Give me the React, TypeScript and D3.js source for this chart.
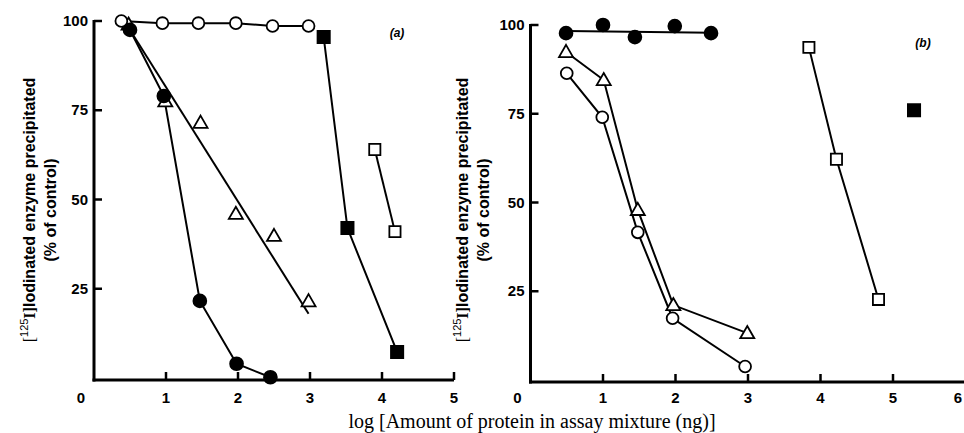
import React, { useEffect, useRef } from 'react'
import * as d3 from 'd3'

// panel (a)
const openCircleAx = [0.38, 0.95, 1.45, 1.97, 2.48, 2.98]
const openCircleAy = [100, 99.4, 99.4, 99.4, 98.6, 98.6]
const filledCircleAx = [0.5, 0.97, 1.47, 1.98, 2.45]
const filledCircleAy = [97.5, 79, 21.6, 4, 0.2]
const triangleAx = [0.48, 0.99, 1.48, 1.97, 2.5, 2.98]
const triangleAy = [99, 77.5, 71.5, 46, 39.8, 21.5]
const triangleFitAx = [0.5, 2.98]
const triangleFitAy = [97.5, 18]
const filledSquareAx = [3.19, 3.52, 4.21]
const filledSquareAy = [95.5, 42, 7.3]
const openSquareAx = [3.9, 4.18]
const openSquareAy = [64, 41]

// panel (b)
const filledCircleBx = [0.49, 1.0, 1.44, 1.99, 2.49]
const filledCircleBy = [97.7, 100, 96.6, 99.7, 97.7]
const filledCircleFitBx = [0.5, 2.5]
const filledCircleFitBy = [98.3, 97.8]
const triangleBx = [0.49, 1.01, 1.48, 1.97, 2.99]
const triangleBy = [92.4, 84.5, 47.9, 21.1, 13.2]
const openCircleBx = [0.5, 0.99, 1.48, 1.96, 2.96]
const openCircleBy = [86.4, 74, 41.6, 17.4, 3.8]
const openSquareBx = [3.84, 4.22, 4.8]
const openSquareBy = [93.7, 62.2, 22.7]
const filledSquareBx = [5.29]
const filledSquareBy = [76]

const yTicks = [25, 50, 75, 100]
const xTitle = 'log [Amount of protein in assay mixture (ng)]'

const zip = (xs: number[], ys: number[]) => xs.map((x, i) => [x, ys[i]] as [number, number])

export default function App() {
  const ref = useRef<SVGSVGElement>(null)

  useEffect(() => {
    const svg = d3.select(ref.current)
    svg.selectAll('*').remove()

    const drawPanel = (opts: any) => {
      const { x, y, xMax, label, labelPos, titleX, series, lines } = opts
      const g = svg.append('g')
      const x0 = x(0), y0 = y(0) + 2

      // axes
      g.append('line').attr('x1', x0).attr('x2', x0).attr('y1', y(100) - 1).attr('y2', y0 + 1.5)
        .attr('stroke', '#000').attr('stroke-width', 3)
      g.append('line').attr('x1', x0 - 1.5).attr('x2', x(xMax)).attr('y1', y0).attr('y2', y0)
        .attr('stroke', '#000').attr('stroke-width', 3)

      yTicks.forEach(t => {
        g.append('line').attr('x1', x0).attr('x2', x0 + 8).attr('y1', y(t)).attr('y2', y(t))
          .attr('stroke', '#000').attr('stroke-width', 2.5)
        g.append('text').attr('x', x0 - 6).attr('y', y(t) + 5).attr('text-anchor', 'end')
          .style('font-family', 'Liberation Sans, Arial, sans-serif').style('font-weight', 'bold')
          .style('font-size', '15px').text(t)
      })
      d3.range(0, xMax + 1).forEach(t => {
        if (t > 0) {
          g.append('line').attr('x1', x(t)).attr('x2', x(t)).attr('y1', y0).attr('y2', y0 - 8)
            .attr('stroke', '#000').attr('stroke-width', 2.5)
        }
        // the origin label sits left of the corner, the last one is clipped by the page edge
        const lx = t === 0 ? x(t) - 13 : Math.min(x(t), 958)
        g.append('text').attr('x', lx).attr('y', 403).attr('text-anchor', 'middle')
          .style('font-family', 'Liberation Sans, Arial, sans-serif').style('font-weight', 'bold')
          .style('font-size', '15px').text(t)
      })

      // y title
      const yt = g.append('text').attr('transform', `translate(${titleX},210) rotate(-90)`)
        .attr('text-anchor', 'middle')
        .style('font-family', 'Liberation Sans, Arial, sans-serif').style('font-size', '16px')
        .style('font-weight', 'bold')
      yt.append('tspan').style('font-family', 'Liberation Serif, serif').style('font-weight', 'normal').text('[')
      yt.append('tspan').attr('dy', -7).style('font-size', '11px').style('font-weight', 'normal').text('125')
      yt.append('tspan').attr('dy', 7).style('font-family', 'Liberation Serif, serif').text('I]')
      yt.append('tspan').text('Iodinated enzyme precipitated')
      g.append('text').attr('transform', `translate(${titleX + 21},210) rotate(-90)`)
        .attr('text-anchor', 'middle')
        .style('font-family', 'Liberation Sans, Arial, sans-serif').style('font-size', '16px')
        .style('font-weight', 'bold')
        .text('(% of control)')

      g.append('text').attr('x', labelPos[0]).attr('y', labelPos[1]).attr('text-anchor', 'middle')
        .style('font-family', 'Liberation Sans, Arial, sans-serif').style('font-style', 'italic')
        .style('font-size', '12px').style('font-weight', 'bold').text(label)

      const line = d3.line<[number, number]>().x(d => x(d[0])).y(d => y(d[1]))
      lines.forEach((pts: [number, number][]) => {
        g.append('path').attr('d', line(pts)).attr('fill', 'none').attr('stroke', '#000').attr('stroke-width', 2)
      })

      series.forEach((s: any) => {
        const sym = s.shape === 'circle' ? d3.symbolCircle : s.shape === 'square' ? d3.symbolSquare : d3.symbolTriangle
        const size = s.shape === 'circle' ? (s.filled ? 130 : 110) : s.shape === 'square' ? (s.filled ? 150 : 125) : 85
        g.selectAll(null).data(s.pts).enter().append('path')
          .attr('d', d3.symbol().type(sym).size(size)())
          .attr('transform', (d: any) => `translate(${x(d[0])},${y(d[1]) + (s.shape === 'triangle' ? 1 : 0)})`)
          .attr('fill', s.filled ? '#000' : '#fff').attr('stroke', '#000').attr('stroke-width', 1.8)
      })
    }

    const xA = d3.scaleLinear().domain([0, 5]).range([94, 454])
    const yA = d3.scaleLinear().domain([0, 100]).range([378, 21])
    drawPanel({
      x: xA, y: yA, xMax: 5, label: '(a)', labelPos: [397, 37], titleX: 35,
      lines: [
        zip(openCircleAx, openCircleAy),
        zip(filledCircleAx, filledCircleAy),
        zip(triangleFitAx, triangleFitAy),
        zip(filledSquareAx, filledSquareAy),
        zip(openSquareAx, openSquareAy),
      ],
      series: [
        { shape: 'triangle', filled: false, pts: zip(triangleAx, triangleAy) },
        { shape: 'circle', filled: false, pts: zip(openCircleAx, openCircleAy) },
        { shape: 'circle', filled: true, pts: zip(filledCircleAx, filledCircleAy) },
        { shape: 'square', filled: true, pts: zip(filledSquareAx, filledSquareAy) },
        { shape: 'square', filled: false, pts: zip(openSquareAx, openSquareAy) },
      ],
    })

    const xB = d3.scaleLinear().domain([0, 6]).range([530.5, 965.5])
    const yB = d3.scaleLinear().domain([0, 100]).range([380, 25])
    drawPanel({
      x: xB, y: yB, xMax: 6, label: '(b)', labelPos: [923, 47], titleX: 468,
      lines: [
        zip(filledCircleFitBx, filledCircleFitBy),
        zip(triangleBx, triangleBy),
        zip(openCircleBx, openCircleBy),
        zip(openSquareBx, openSquareBy),
      ],
      series: [
        { shape: 'circle', filled: true, pts: zip(filledCircleBx, filledCircleBy) },
        { shape: 'triangle', filled: false, pts: zip(triangleBx, triangleBy) },
        { shape: 'circle', filled: false, pts: zip(openCircleBx, openCircleBy) },
        { shape: 'square', filled: false, pts: zip(openSquareBx, openSquareBy) },
        { shape: 'square', filled: true, pts: zip(filledSquareBx, filledSquareBy) },
      ],
    })

    svg.append('text').attr('x', 532).attr('y', 428).attr('text-anchor', 'middle')
      .style('font-family', 'Liberation Serif, Times New Roman, serif').style('font-size', '20px')
      .text(xTitle)
  }, [])

  return (
    <div style={{ position: 'absolute', left: 0, top: 0 }}>
      <svg ref={ref} width={964} height={433} style={{ display: 'block', background: '#fff' }} />
    </div>
  )
}
